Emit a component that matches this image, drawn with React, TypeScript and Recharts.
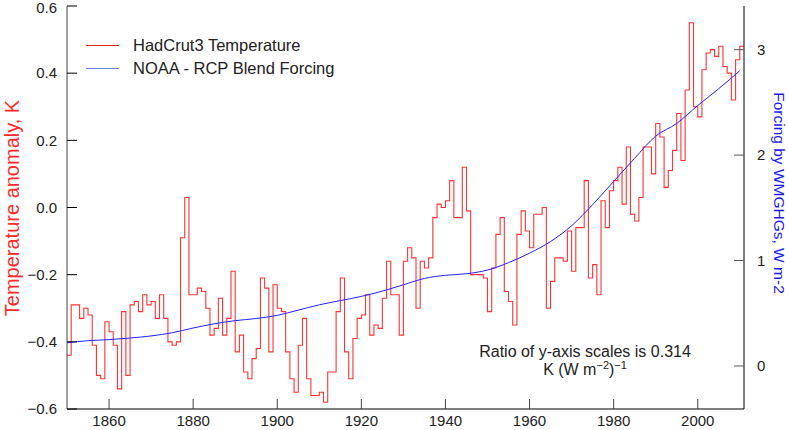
import { ComposedChart, Line, XAxis, YAxis } from "recharts";

// HadCrut3 annual global temperature anomaly, K (1850 .. 2010)
const firstYear = 1850;
const temperature = [
  -0.44, -0.29, -0.29, -0.33, -0.3, -0.32, -0.41, -0.5, -0.51, -0.34,
  -0.37, -0.41, -0.54, -0.31, -0.5, -0.29, -0.28, -0.31, -0.26, -0.29,
  -0.28, -0.33, -0.26, -0.33, -0.4, -0.41, -0.4, -0.09, 0.03, -0.26,
  -0.26, -0.24, -0.25, -0.3, -0.38, -0.36, -0.27, -0.38, -0.33, -0.19,
  -0.43, -0.38, -0.49, -0.51, -0.45, -0.42, -0.21, -0.24, -0.43, -0.23,
  -0.3, -0.31, -0.43, -0.51, -0.55, -0.41, -0.33, -0.51, -0.56, -0.56,
  -0.55, -0.58, -0.49, -0.49, -0.31, -0.21, -0.43, -0.51, -0.39, -0.33,
  -0.32, -0.26, -0.38, -0.35, -0.36, -0.27, -0.16, -0.26, -0.26, -0.38,
  -0.16, -0.12, -0.15, -0.3, -0.16, -0.18, -0.15, -0.03, 0.01, 0.0,
  0.02, 0.08, -0.03, -0.03, 0.12, -0.01, -0.2, -0.2, -0.2, -0.21,
  -0.31, -0.18, -0.08, -0.03, -0.25, -0.28, -0.35, -0.08, -0.01, -0.07,
  -0.12, -0.02, -0.02, 0.0, -0.3, -0.22, -0.15, -0.15, -0.16, -0.07,
  -0.19, -0.06, -0.06, 0.08, -0.21, -0.17, -0.26, 0.02, -0.06, 0.05,
  0.08, 0.12, 0.01, 0.18, -0.02, -0.04, 0.03, 0.18, 0.18, 0.1,
  0.25, 0.21, 0.06, 0.11, 0.17, 0.28, 0.14, 0.35, 0.55, 0.3,
  0.27, 0.41, 0.46, 0.47, 0.45, 0.48, 0.42, 0.4, 0.32, 0.44,
  0.48,
];

// NOAA - RCP blend forcing by WMGHGs, W m-2
const forcingYears = [
  1850, 1855, 1860, 1865, 1870, 1875, 1880, 1885, 1890, 1895, 1900,
  1905, 1910, 1915, 1920, 1925, 1930, 1935, 1940, 1945, 1950, 1955,
  1960, 1965, 1970, 1975, 1980, 1985, 1990, 1995, 2000, 2005, 2010,
];
const forcing = [
  0.22, 0.24, 0.25, 0.265, 0.285, 0.315, 0.36, 0.4, 0.43, 0.45, 0.48,
  0.53, 0.58, 0.62, 0.66, 0.71, 0.77, 0.83, 0.86, 0.875, 0.91, 0.98,
  1.07, 1.18, 1.33, 1.53, 1.75, 1.97, 2.18, 2.3, 2.47, 2.63, 2.8,
];

const yearTicks = [1860, 1880, 1900, 1920, 1940, 1960, 1980, 2000];
const tempTicks = [-0.6, -0.4, -0.2, 0.0, 0.2, 0.4, 0.6];
const forcingTicks = [0, 1, 2, 3];

const tempRows = temperature.map((t, i) => ({ year: firstYear + i, temp: t }));
const forcingRows = forcingYears.map((year, i) => ({ year, forcing: forcing[i] }));

// step-after curve whose last step runs on for one more year
const stepToEnd = (context: any) => {
  let pts: number[][] = [];
  return {
    areaStart() {},
    areaEnd() {},
    lineStart() {
      pts = [];
    },
    point(x: number, y: number) {
      pts.push([+x, +y]);
    },
    lineEnd() {
      if (!pts.length) return;
      context.moveTo(pts[0][0], pts[0][1]);
      for (let i = 1; i < pts.length; i++) {
        context.lineTo(pts[i][0], pts[i - 1][1]);
        context.lineTo(pts[i][0], pts[i][1]);
      }
      const n = pts.length;
      if (n > 1) context.lineTo(2 * pts[n - 1][0] - pts[n - 2][0], pts[n - 1][1]);
    },
  };
};

const font = "'Liberation Sans', Arial, Helvetica, sans-serif";
const minus = (v: number, digits: number) =>
  v.toFixed(digits).replace("-", "\u2212");

// left tick labels; the top one is kept inside the page
const TempTick = (props: any) => (
  <text
    x={props.x}
    y={Math.max(props.y, 8)}
    dy="0.355em"
    textAnchor="end"
    fontSize={15}
    fill="#222"
  >
    {minus(props.payload.value, 1)}
  </text>
);

export default function App() {
  return (
    <div style={{ position: "relative", width: 788, height: 430, fontFamily: font }}>
      <style>{"body{margin:0}"}</style>
      <ComposedChart
        width={788}
        height={430}
        margin={{ top: 6, right: 0, bottom: 0, left: 0 }}
      >
        <XAxis
          xAxisId="bottom"
          dataKey="year"
          type="number"
          domain={[1850, 2011]}
          allowDataOverflow
          ticks={yearTicks}
          interval={0}
          height={21}
          tickSize={-10}
          tickMargin={16}
          tick={{ fontSize: 15, fill: "#222" }}
          axisLine={{ stroke: "#555", strokeWidth: 1.5 }}
          tickLine={{ stroke: "#444" }}
        />
        <XAxis
          xAxisId="top"
          orientation="top"
          type="number"
          domain={[1850, 2011]}
          allowDataOverflow
          ticks={yearTicks}
          interval={0}
          height={0}
          tickSize={-10}
          tick={false}
          axisLine={{ stroke: "#000" }}
          tickLine={{ stroke: "#444" }}
        />
        <YAxis
          yAxisId="temp"
          type="number"
          domain={[-0.6, 0.6]}
          allowDataOverflow
          ticks={tempTicks}
          interval={0}
          width={67}
          tickSize={-10}
          tickMargin={20}
          tick={<TempTick />}
          axisLine={{ stroke: "#444" }}
          tickLine={{ stroke: "#000" }}
        />
        <YAxis
          yAxisId="forcing"
          orientation="right"
          type="number"
          domain={[-0.408, 3.414]}
          allowDataOverflow
          ticks={forcingTicks}
          interval={0}
          width={44}
          tickSize={-10}
          tickMargin={23}
          tick={{ fontSize: 15, fill: "#222" }}
          axisLine={{ stroke: "#000" }}
          tickLine={{ stroke: "#555" }}
        />
        <Line
          xAxisId="bottom"
          yAxisId="temp"
          data={tempRows}
          dataKey="temp"
          type={stepToEnd as any}
          stroke="#ff3333"
          strokeWidth={1.1}
          dot={false}
          activeDot={false}
          isAnimationActive={false}
        />
        <Line
          xAxisId="bottom"
          yAxisId="forcing"
          data={forcingRows}
          dataKey="forcing"
          type="monotone"
          stroke="#2222ff"
          strokeWidth={1}
          dot={false}
          activeDot={false}
          isAnimationActive={false}
        />
      </ComposedChart>

      <div style={{ position: "absolute", left: 86, top: 35, height: 20, display: "flex", alignItems: "center", fontSize: 16.5, color: "#222" }}>
        <span style={{ width: 33, height: 0, borderTop: "1px solid #dd2222", marginRight: 14 }} />
        HadCrut3 Temperature
      </div>
      <div style={{ position: "absolute", left: 86, top: 58, height: 20, display: "flex", alignItems: "center", fontSize: 16.5, color: "#222" }}>
        <span style={{ width: 33, height: 0, borderTop: "1px solid #6688d8", marginRight: 14 }} />
        NOAA - RCP Blend Forcing
      </div>

      <div style={{ position: "absolute", left: 435, top: 343, width: 300, textAlign: "center", fontSize: 16, lineHeight: "18px", color: "#222" }}>
        Ratio of y-axis scales is 0.314
        <br />
        K (W m<sup style={{ fontSize: 11, lineHeight: 0 }}>{"\u22122"}</sup>)<sup style={{ fontSize: 11, lineHeight: 0 }}>{"\u22121"}</sup>
      </div>

      <div style={{ position: "absolute", left: 12, top: 208, transform: "translate(-50%, -50%) rotate(-90deg)", whiteSpace: "nowrap", fontSize: 20, color: "#ff2a2a" }}>
        Temperature anomaly, K
      </div>
      <div style={{ position: "absolute", left: 779, top: 193, transform: "translate(-50%, -50%) rotate(90deg)", whiteSpace: "nowrap", fontSize: 15.5, color: "#1a1aee" }}>
        Forcing by WMGHGs, W m-2
      </div>
    </div>
  );
}
